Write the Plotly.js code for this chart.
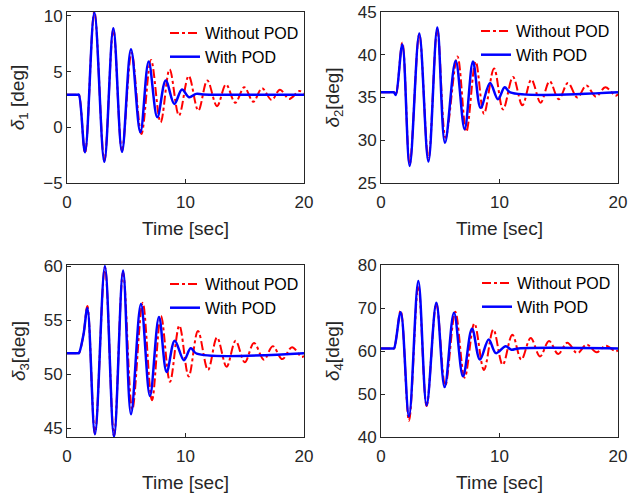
<!DOCTYPE html>
<html>
<head>
<meta charset="utf-8">
<script src="https://cdn.plot.ly/plotly-3.0.1.min.js"></script>
<style>html,body{margin:0;padding:0;background:#fff;}#plot{width:628px;height:500px;}</style>
</head>
<body>
<div id="plot"></div>
<script>
// ---- Data (time in sec, angle in deg) ----
var seriesNames = ["Without POD", "With POD"];
var xTicks = [0, 10, 20];

// Panel 1: delta_1
var t1_without = [0, 0.9, 1.0, 1.52, 2.31, 3.15, 3.91, 4.64, 5.45, 6.28, 7.09, 7.9, 8.66, 9.45, 10.27, 11.08, 11.84, 12.66, 13.42, 14.2, 14.96, 15.72, 16.46, 17.27, 17.97, 18.76, 19.6, 20];
var d1_without = [2.93, 2.93, 2.93, -2.3, 10.4, -3.0, 8.8, -2.1, 6.7, -0.6, 6.05, 0.45, 5.2, 1.05, 4.6, 1.5, 4.2, 1.9, 3.85, 2.2, 3.6, 2.3, 3.5, 2.45, 3.38, 2.55, 3.25, 3.05];
var t1_with = [0, 0.9, 1.0, 1.52, 2.31, 3.15, 3.91, 4.64, 5.40, 6.19, 6.89, 7.62, 8.33, 9.06, 9.70, 10.3, 10.9, 11.5, 20];
var d1_with = [2.93, 2.93, 2.93, -2.25, 10.3, -3.1, 8.9, -2.2, 7.0, -0.45, 5.9, 0.9, 4.2, 2.1, 3.4, 2.7, 3.0, 2.95, 2.93];

// Panel 2: delta_2
var t2_without = [0, 1.0, 1.1, 1.25, 1.8, 2.42, 3.23, 4.0, 4.75, 5.45, 6.45, 7.2, 7.99, 8.69, 9.54, 10.3, 11.14, 11.93, 12.69, 13.47, 14.23, 15.0, 15.78, 16.57, 17.33, 18.14, 18.93, 19.8, 20];
var d2_without = [35.6, 35.6, 35.6, 35.3, 41.4, 27.2, 42.4, 27.8, 43.0, 30.3, 39.8, 31.0, 39.2, 33.1, 38.4, 33.6, 37.4, 34.1, 37.1, 34.4, 36.9, 34.8, 36.7, 35.0, 36.4, 35.1, 36.2, 35.2, 35.4];
var t2_with = [0, 1.0, 1.1, 1.25, 1.8, 2.42, 3.23, 4.0, 4.75, 5.4, 6.3, 7.06, 7.76, 8.41, 9.2, 9.87, 10.44, 10.9, 20];
var d2_with = [35.6, 35.6, 35.6, 35.3, 41.2, 27.0, 42.5, 27.5, 43.2, 29.7, 39.3, 31.3, 39.2, 33.8, 36.7, 34.8, 36.2, 35.6, 35.6];

// Panel 3: delta_3
var t3_without = [0, 0.9, 1.0, 1.38, 1.72, 2.36, 3.2, 3.97, 4.73, 5.51, 6.39, 7.17, 7.93, 8.69, 9.48, 10.27, 11.05, 11.9, 12.66, 13.47, 14.23, 15.0, 15.78, 16.62, 17.36, 18.17, 18.99, 19.8, 20];
var d3_without = [51.95, 51.95, 51.95, 53.6, 56.3, 44.5, 59.9, 44.3, 59.4, 46.75, 56.6, 47.6, 55.4, 49.3, 54.5, 49.8, 54.0, 50.4, 53.4, 50.7, 53.1, 51.1, 52.9, 51.35, 52.6, 51.4, 52.5, 51.6, 51.7];
var t3_with = [0, 0.9, 1.0, 1.38, 1.72, 2.36, 3.2, 3.97, 4.73, 5.4, 6.24, 7.0, 7.76, 8.41, 9.09, 9.87, 10.44, 10.95, 20];
var d3_with = [51.95, 51.95, 51.95, 53.6, 56.1, 44.45, 60.0, 44.2, 59.6, 46.3, 56.5, 48.0, 55.3, 50.2, 53.1, 51.3, 52.4, 51.9, 51.95];

// Panel 4: delta_4
var t4_without = [0, 1.0, 1.1, 1.66, 2.36, 3.15, 3.85, 4.67, 5.42, 6.27, 7.06, 7.88, 8.69, 9.48, 10.27, 11.08, 11.84, 12.63, 13.42, 14.18, 14.96, 15.72, 16.57, 17.36, 18.2, 18.96, 19.8, 20];
var d4_without = [60.6, 60.6, 60.6, 69.4, 43.8, 75.2, 47.2, 71.0, 51.9, 69.1, 53.8, 66.4, 55.6, 65.0, 56.8, 63.8, 58.0, 63.0, 58.75, 62.3, 59.3, 61.9, 59.5, 61.5, 59.7, 61.25, 59.9, 60.2];
var t4_with = [0, 1.0, 1.1, 1.66, 2.36, 3.15, 3.85, 4.67, 5.37, 6.16, 6.92, 7.68, 8.35, 9.09, 9.7, 10.52, 11.0, 11.6, 20];
var d4_with = [60.6, 60.6, 60.6, 69.0, 44.8, 76.3, 47.4, 71.2, 51.6, 68.9, 54.1, 65.2, 58.0, 62.7, 59.5, 61.1, 60.3, 60.6, 60.6];

var yTicks1 = [-5, 0, 5, 10];
var yTicks2 = [25, 30, 35, 40, 45];
var yTicks3 = [45, 50, 55, 60];
var yTicks4 = [40, 50, 60, 70, 80];
var yTitles = ["<i>δ</i><sub>1</sub> [deg]", "<i>δ</i><sub>2</sub>[deg]", "<i>δ</i><sub>3</sub>[deg]", "<i>δ</i><sub>4</sub>[deg]"];
var xTitle = "Time [sec]";

// ---- Build ----
var FONT = "Liberation Sans, Arial, Helvetica, sans-serif";
var AXC = "#262626";
var panels = [
  {t: [t1_without, t1_with], d: [d1_without, d1_with], yt: yTicks1, yr: [-5, 10.35]},
  {t: [t2_without, t2_with], d: [d2_without, d2_with], yt: yTicks2, yr: [25, 45]},
  {t: [t3_without, t3_with], d: [d3_without, d3_with], yt: yTicks3, yr: [44.2, 60.1]},
  {t: [t4_without, t4_with], d: [d4_without, d4_with], yt: yTicks4, yr: [40, 80]}
];
var W = 628, H = 500;
var boxes = [ // pixel boxes [left, right, top, bottom]
  [67, 304, 12, 183], [381, 618, 12, 183], [67, 304, 265, 437], [381, 618, 265, 437]
];
var legPos = [[165, 16], [476, 14], [165, 267], [477, 266]];
var traces = [];
var layout = {
  width: W, height: H,
  margin: {l: 0, r: 0, t: 0, b: 0},
  paper_bgcolor: "#ffffff", plot_bgcolor: "#ffffff",
  font: {family: FONT, color: AXC, size: 17},
  showlegend: true
};
panels.forEach(function (p, i) {
  var n = i + 1;
  var xa = "x" + (n === 1 ? "" : n), ya = "y" + (n === 1 ? "" : n);
  var lg = "legend" + (n === 1 ? "" : n);
  traces.push({x: p.t[0], y: p.d[0], type: "scatter", mode: "lines", name: seriesNames[0],
    xaxis: xa, yaxis: ya, legend: lg,
    line: {color: "#ff0000", width: 2, dash: "dashdot", shape: "spline", smoothing: 1}});
  traces.push({x: p.t[1], y: p.d[1], type: "scatter", mode: "lines", name: seriesNames[1],
    xaxis: xa, yaxis: ya, legend: lg,
    line: {color: "#0000ff", width: 2.5, shape: "spline", smoothing: 1}});
  var b = boxes[i];
  var axBase = {showline: true, mirror: true, linecolor: AXC, linewidth: 1, ticks: "inside",
    ticklen: 4, tickcolor: AXC, showgrid: false, zeroline: false,
    tickfont: {family: FONT, size: 17, color: AXC}};
  layout["xaxis" + (n === 1 ? "" : n)] = Object.assign({}, axBase, {
    domain: [b[0] / W, b[1] / W], anchor: ya, range: [0, 20], tickvals: xTicks,
    ticklabelstandoff: 4,
    title: {text: xTitle, font: {family: FONT, size: 19, color: AXC}, standoff: 10}
  });
  layout["yaxis" + (n === 1 ? "" : n)] = Object.assign({}, axBase, {
    domain: [1 - b[3] / H, 1 - b[2] / H], anchor: xa, range: p.yr, tickvals: p.yt,
    title: {text: yTitles[i], font: {family: FONT, size: 19, color: AXC}, standoff: 13}
  });
  layout[lg] = {x: legPos[i][0] / W, y: 1 - legPos[i][1] / H, xanchor: "left", yanchor: "top",
    bgcolor: "rgba(255,255,255,0)", borderwidth: 0, font: {family: FONT, size: 16, color: "#000"},
    tracegroupgap: 0};
});
Plotly.newPlot("plot", traces, layout, {staticPlot: true, displayModeBar: false});
</script>
</body>
</html>
